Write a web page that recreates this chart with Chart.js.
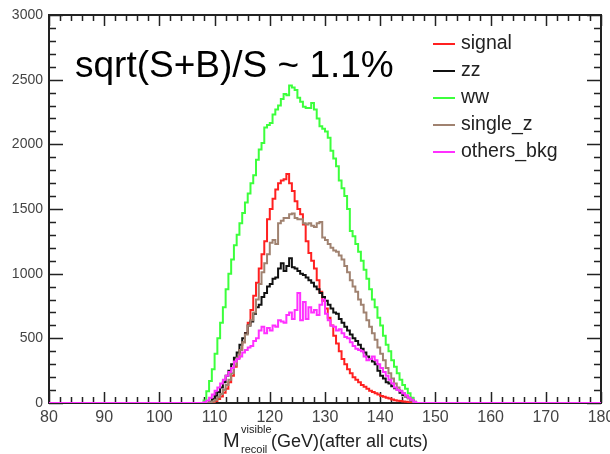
<!DOCTYPE html>
<html>
<head>
<meta charset="utf-8">
<title>Recoil mass after all cuts</title>
<script src="https://cdn.jsdelivr.net/npm/chart.js@4/dist/chart.umd.min.js"></script>
<style>
    body { margin: 0; background: #fff; }
    #wrap { position: relative; width: 610px; height: 454px; }
</style>
</head>
<body>
<div id="wrap"><canvas id="recoilChart"></canvas></div>
<script>
// histogram bins: 0.5 GeV wide, first bin starts at 108 GeV, everything outside is 0
const xMin = 80;
const xMax = 180;
const firstBin = 108;
const binWidth = 0.5;

const seriesNames = ["signal", "zz", "ww", "single_z", "others_bkg"];
const seriesColors = ["#ff2020", "#111111", "#3cff3c", "#a08270", "#ff30ff"];

const signal = [0, 0, 0, 5, 15, 30, 50, 80, 110, 160, 210, 280, 350, 410, 470, 540, 620, 720, 830, 930,
    1040, 1150, 1250, 1420, 1500, 1580, 1650, 1700, 1720, 1730, 1770, 1700, 1640, 1560, 1500, 1460, 1380, 1250, 1160, 1100,
    1040, 950, 860, 790, 730, 660, 600, 520, 460, 400, 340, 300, 260, 230, 200, 180, 160, 140, 125, 110,
    95, 85, 75, 65, 55, 48, 40, 35, 28, 22, 18, 15, 12, 10, 6, 3, 0, 0];
const zz = [0, 0, 10, 30, 55, 85, 120, 160, 210, 250, 300, 350, 390, 450, 500, 540, 600, 630, 690, 740,
    760, 820, 850, 900, 920, 960, 970, 1040, 1080, 1020, 1060, 1120, 1050, 1040, 1020, 1000, 990, 970, 950, 930,
    900, 880, 850, 820, 790, 760, 730, 700, 690, 650, 620, 590, 560, 530, 500, 480, 450, 420, 390, 360,
    340, 320, 300, 250, 210, 190, 160, 150, 130, 115, 100, 80, 60, 50, 40, 20, 0, 0];
const ww = [20, 90, 170, 260, 380, 500, 620, 740, 880, 1000, 1110, 1220, 1300, 1390, 1470, 1550, 1620, 1700, 1760, 1880,
    1960, 2010, 2130, 2150, 2165, 2230, 2270, 2300, 2350, 2390, 2380, 2455, 2440, 2420, 2360, 2330, 2290, 2280, 2280, 2320,
    2270, 2200, 2140, 2120, 2100, 2050, 1950, 1890, 1830, 1720, 1660, 1600, 1500, 1330, 1290, 1230, 1170, 1100, 1030, 960,
    880, 800, 740, 660, 600, 520, 450, 400, 330, 280, 230, 180, 140, 110, 75, 40, 10, 0];
const singleZ = [0, 0, 5, 12, 25, 45, 70, 100, 140, 180, 230, 290, 350, 410, 470, 530, 600, 640, 700, 800,
    920, 1010, 1080, 1150, 1240, 1260, 1230, 1390, 1410, 1430, 1430, 1460, 1465, 1430, 1420, 1420, 1390, 1380, 1390, 1370,
    1360, 1390, 1400, 1280, 1260, 1230, 1200, 1180, 1170, 1140, 1110, 1060, 1010, 950, 900, 860, 800, 760, 700, 640,
    590, 540, 490, 430, 380, 330, 270, 230, 190, 150, 120, 95, 75, 55, 35, 20, 8, 0];
const othersBkg = [5, 20, 40, 65, 95, 120, 150, 180, 210, 240, 270, 320, 340, 360, 390, 410, 430, 440, 480, 500,
    560, 590, 540, 580, 560, 600, 590, 640, 630, 620, 680, 700, 650, 720, 850, 640, 780, 650, 740, 700,
    720, 680, 760, 800, 690, 640, 600, 590, 560, 570, 540, 510, 500, 470, 440, 420, 410, 400, 360, 330,
    340, 360, 330, 300, 270, 240, 210, 180, 150, 120, 100, 90, 75, 60, 40, 25, 10, 0];

const xTicks = [80, 90, 100, 110, 120, 130, 140, 150, 160, 170, 180];
const yTicks = [0, 500, 1000, 1500, 2000, 2500, 3000];

const annotation = "sqrt(S+B)/S ~ 1.1%";

// left edge of every bin with its content, plus closing point at xMax
function toPoints(vals) {
    const pts = [];
    for (let x = xMin; x < xMax; x += binWidth) {
        const i = Math.round((x - firstBin) / binWidth);
        pts.push({ x: x, y: (i >= 0 && i < vals.length) ? vals[i] : 0 });
    }
    pts.push({ x: xMax, y: 0 });
    return pts;
}

const allSeries = [signal, zz, ww, singleZ, othersBkg];

// ROOT style frame with ticks on all four sides
const framePlugin = {
    id: "frame",
    beforeDatasetsDraw(chart) {
        const { ctx, chartArea: a, scales } = chart;
        ctx.save();
        ctx.strokeStyle = "#222";
        ctx.lineWidth = 1.5;
        for (let v = 0; v <= 3000; v += 100) {
            const y = Math.round(scales.y.getPixelForValue(v)) + 0.5;
            const len = v % 500 === 0 ? 14 : 7;
            ctx.beginPath();
            ctx.moveTo(a.left, y); ctx.lineTo(a.left + len, y);
            ctx.moveTo(a.right, y); ctx.lineTo(a.right - len, y);
            ctx.stroke();
        }
        for (let v = xMin; v <= xMax; v += 2) {
            const x = Math.round(scales.x.getPixelForValue(v)) + 0.5;
            const len = v % 10 === 0 ? 11 : 6;
            ctx.beginPath();
            ctx.moveTo(x, a.bottom); ctx.lineTo(x, a.bottom - len);
            ctx.moveTo(x, a.top); ctx.lineTo(x, a.top + len);
            ctx.stroke();
        }
        ctx.lineWidth = 2;
        ctx.strokeRect(a.left, a.top, a.right - a.left, a.bottom - a.top);
        ctx.restore();
    },
    afterDraw(chart) {
        const { ctx } = chart;
        ctx.save();
        // big text inside the pad
        ctx.fillStyle = "#000";
        ctx.font = "37px 'Liberation Sans', Arial, sans-serif";
        ctx.textBaseline = "alphabetic";
        ctx.fillText(annotation, 75, 77);

        // legend
        ctx.font = "19.5px 'Liberation Sans', Arial, sans-serif";
        ctx.textBaseline = "middle";
        chart.data.datasets.forEach((ds, i) => {
            const y = 44 + i * 27;
            ctx.strokeStyle = ds.borderColor;
            ctx.lineWidth = 2;
            ctx.beginPath();
            ctx.moveTo(433, y); ctx.lineTo(455, y);
            ctx.stroke();
            ctx.fillStyle = "#222";
            ctx.fillText(ds.label, 461, y);
        });

        // x axis title: M with super/subscript
        const base = 447;
        ctx.fillStyle = "#222";
        ctx.textBaseline = "alphabetic";
        ctx.font = "20px 'Liberation Sans', Arial, sans-serif";
        ctx.fillText("M", 223, base);
        ctx.font = "11px 'Liberation Sans', Arial, sans-serif";
        ctx.fillText("visible", 241, base - 14);
        ctx.fillText("recoil", 241, base + 6);
        ctx.font = "18px 'Liberation Sans', Arial, sans-serif";
        ctx.fillText("(GeV)(after all cuts)", 271, base);
        ctx.restore();
    }
};

const ctx = document.getElementById("recoilChart").getContext("2d");

new Chart(ctx, {
    type: "line",
    data: {
        datasets: seriesNames.map((name, i) => ({
            label: name,
            data: toPoints(allSeries[i]),
            borderColor: seriesColors[i],
            backgroundColor: seriesColors[i],
            borderWidth: 2,
            pointRadius: 0,
            stepped: true,
            fill: false,
            order: seriesNames.length - i   // last series drawn on top
        }))
    },
    options: {
        responsive: true,
        maintainAspectRatio: false,
        animation: false,
        layout: { padding: { top: 15, right: 9, left: 0, bottom: 0 } },
        plugins: {
            legend: { display: false },
            tooltip: { enabled: false }
        },
        scales: {
            x: {
                type: "linear",
                min: xMin,
                max: xMax,
                grid: { display: false, drawTicks: false },
                border: { display: false },
                afterBuildTicks: (scale) => { scale.ticks = xTicks.map(v => ({ value: v })); },
                ticks: {
                    autoSkip: false,
                    maxRotation: 0,
                    padding: 5,
                    color: "#444",
                    callback: (v) => String(v),
                    font: { family: "'Liberation Sans', Arial, sans-serif", size: 16 }
                },
                afterFit: (scale) => { scale.height = 51; scale.paddingLeft = 0; scale.paddingRight = 0; }
            },
            y: {
                min: 0,
                max: 3000,
                grid: { display: false, drawTicks: false },
                border: { display: false },
                afterBuildTicks: (scale) => { scale.ticks = yTicks.map(v => ({ value: v })); },
                ticks: {
                    padding: 6,
                    color: "#444",
                    callback: (v) => String(v),
                    font: { family: "'Liberation Sans', Arial, sans-serif", size: 14 }
                },
                afterFit: (scale) => { scale.width = 49; scale.paddingTop = 0; scale.paddingBottom = 0; }
            }
        }
    },
    plugins: [framePlugin]
});
</script>
</body>
</html>
